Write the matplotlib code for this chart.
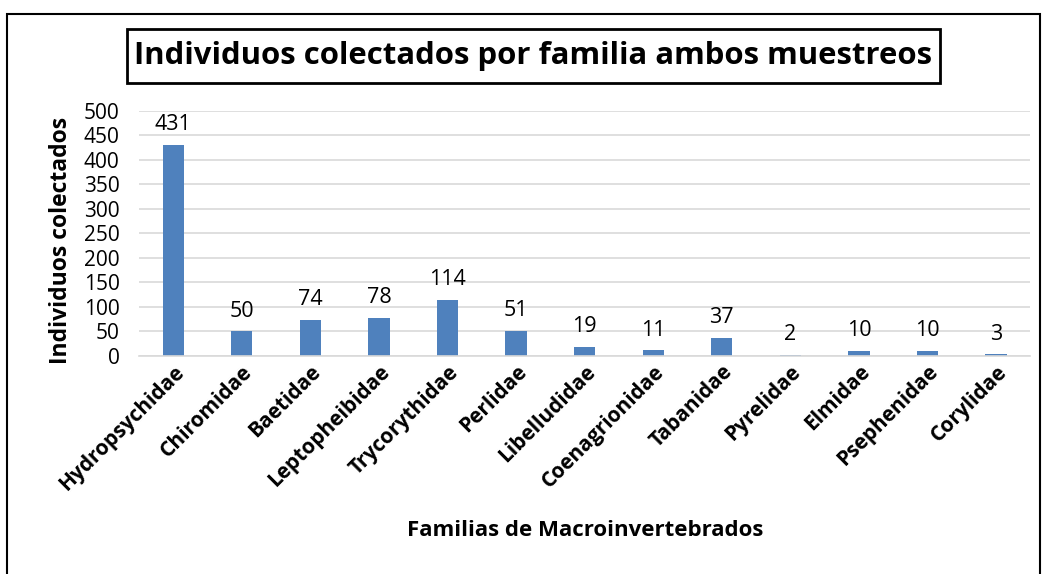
import matplotlib.pyplot as plt
from matplotlib.patches import Rectangle

plt.rcParams['font.family'] = ['Open Sans', 'DejaVu Sans']

# datos
familias = ['Hydropsychidae', 'Chiromidae', 'Baetidae', 'Leptopheibidae',
            'Trycorythidae', 'Perlidae', 'Libelludidae', 'Coenagrionidae',
            'Tabanidae', 'Pyrelidae', 'Elmidae', 'Psephenidae', 'Corylidae']
individuos = [431, 50, 74, 78, 114, 51, 19, 11, 37, 2, 10, 10, 3]
yticks = [0, 50, 100, 150, 200, 250, 300, 350, 400, 450, 500]

fig = plt.figure(figsize=(10.45, 5.74), dpi=100)
ax = fig.add_axes([0.133, 0.380, 0.853, 0.427])

x = range(len(familias))
bars = ax.bar(x, individuos, width=0.31, color='#4F81BD')
for b, v in zip(bars, individuos):
    ax.annotate(str(v), (b.get_x() + b.get_width() / 2, v), xytext=(0, 7),
                textcoords='offset points', ha='center', va='bottom', fontsize=15.5)

ax.set_xlim(-0.5, len(familias) - 0.5)
ax.set_ylim(0, 500)
ax.set_yticks(yticks)
ax.tick_params(axis='y', labelsize=15, length=0, pad=14)
ax.tick_params(axis='x', length=0, pad=4)
ax.set_xticks(list(x))
ax.set_xticklabels(familias, rotation=45, ha='right', rotation_mode='anchor',
                   fontsize=15, fontweight='bold')
ax.grid(axis='y', color='#D9D9D9', linewidth=1.2)
ax.set_axisbelow(True)
for s in ['top', 'right', 'left']:
    ax.spines[s].set_visible(False)
ax.spines['bottom'].set_color('#D9D9D9')
ax.spines['bottom'].set_linewidth(1.2)

fig.text(61 / 1045, 1 - 240 / 574, 'Individuos colectados', rotation=90, ha='center', va='center',
         fontsize=16.5, fontweight='bold')
fig.text(585 / 1045, 1 - 530 / 574, 'Familias de Macroinvertebrados', ha='center', va='center',
         fontsize=16, fontweight='bold')

# titulo con recuadro
fig.add_artist(Rectangle((127 / 1045, 1 - 83 / 574), (940 - 127) / 1045, 54 / 574,
                         transform=fig.transFigure, fill=False, edgecolor='black', linewidth=2))
fig.text(533 / 1045, 1 - 56 / 574, 'Individuos colectados por familia ambos muestreos',
         ha='center', va='center', fontsize=22.4, fontweight='bold')

# borde exterior
fig.add_artist(Rectangle((7 / 1045, -0.05), (1040 - 7) / 1045, 1.05 - 14 / 574,
                         transform=fig.transFigure, fill=False, edgecolor='black', linewidth=1.5))

fig.savefig('out.png', dpi=100)
